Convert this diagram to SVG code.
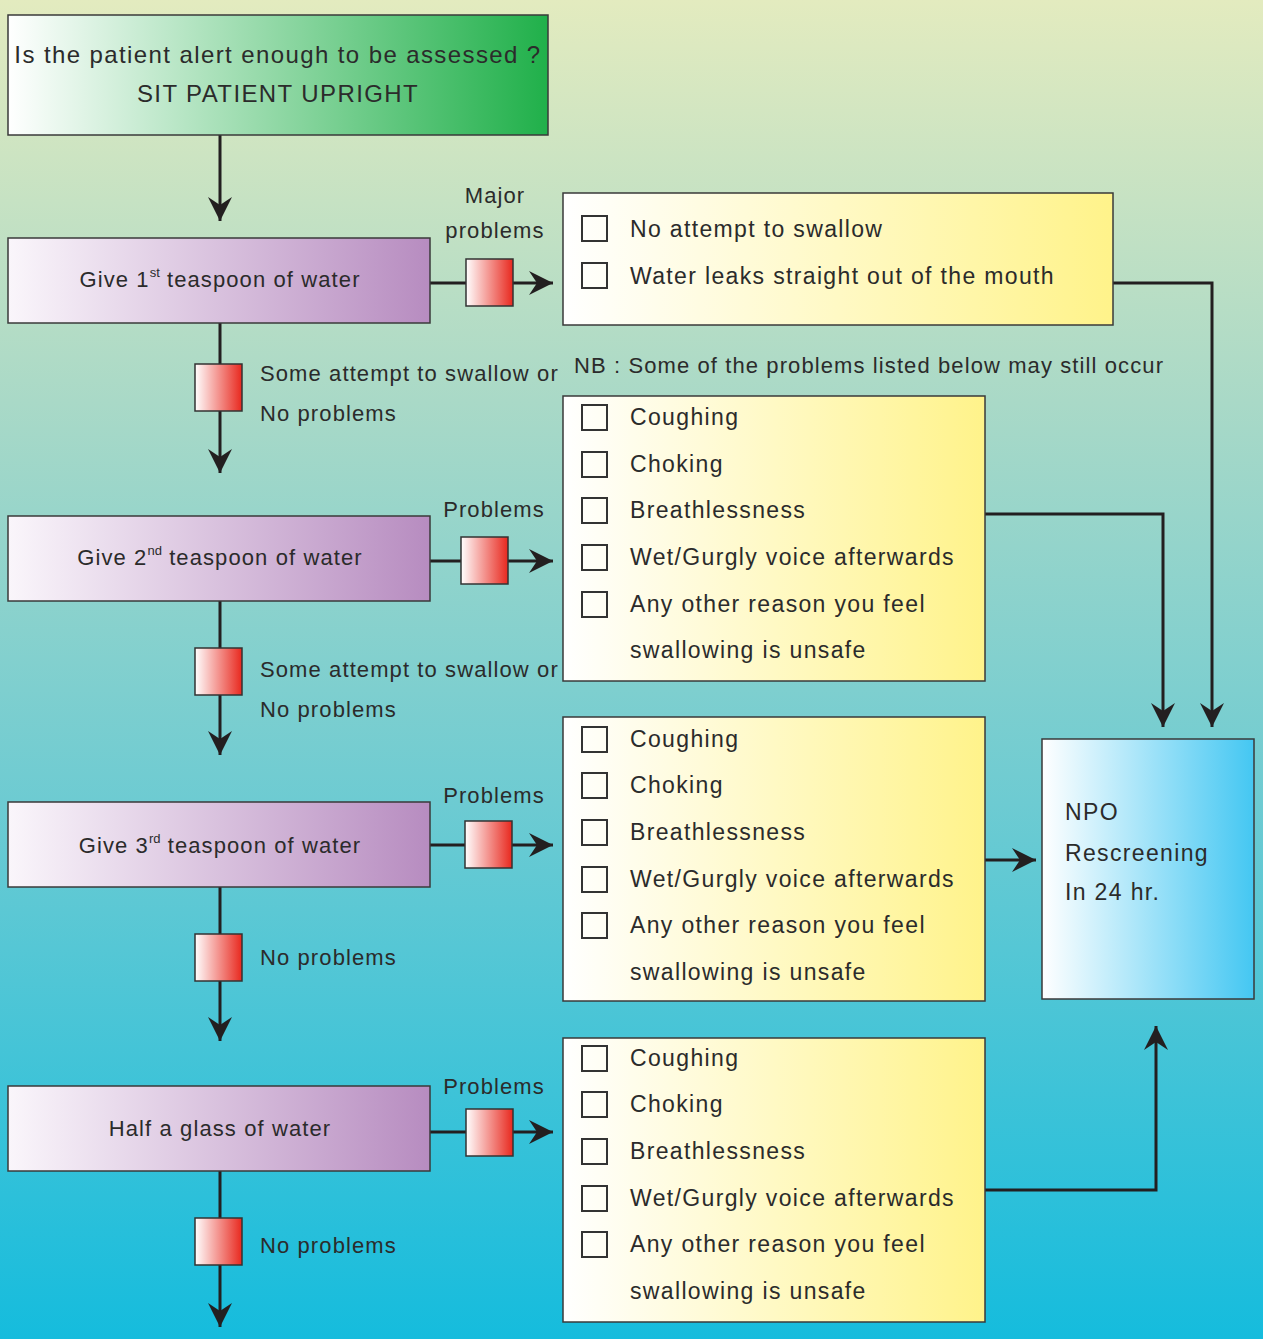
<svg xmlns="http://www.w3.org/2000/svg" width="1263" height="1339" viewBox="0 0 1263 1339">
<defs>
<linearGradient id="bg" x1="0" y1="0" x2="0" y2="1">
<stop offset="0" stop-color="#e3ebbf"/>
<stop offset="0.3" stop-color="#a9d9c7"/>
<stop offset="0.6" stop-color="#6dcbd2"/>
<stop offset="1" stop-color="#15bcdd"/>
</linearGradient>
<linearGradient id="green" x1="0" y1="0" x2="1" y2="0">
<stop offset="0" stop-color="#ffffff"/>
<stop offset="1" stop-color="#20b04a"/>
</linearGradient>
<linearGradient id="purple" x1="0" y1="0" x2="1" y2="0">
<stop offset="0" stop-color="#faf6fb"/>
<stop offset="1" stop-color="#b78cc0"/>
</linearGradient>
<linearGradient id="yellow" x1="0" y1="0" x2="1" y2="0">
<stop offset="0" stop-color="#ffffff"/>
<stop offset="1" stop-color="#fff38a"/>
</linearGradient>
<linearGradient id="blue" x1="0" y1="0" x2="1" y2="0">
<stop offset="0" stop-color="#ffffff"/>
<stop offset="1" stop-color="#44c7f2"/>
</linearGradient>
<linearGradient id="red" x1="0" y1="0" x2="1" y2="0">
<stop offset="0" stop-color="#ffffff"/>
<stop offset="1" stop-color="#e8281e"/>
</linearGradient>
<marker id="arr" markerUnits="userSpaceOnUse" markerWidth="28" markerHeight="28" viewBox="-26 -14 28 28" refX="0" refY="0" orient="auto">
<path d="M0,0 L-24,-12 L-16,0 L-24,12 Z" fill="#231f20"/>
</marker>
<style>
text{font-family:"Liberation Sans",Arial,sans-serif;fill:#2b2b2b;}
.t{font-size:22px;letter-spacing:1.1px;}
.c{font-size:23px;letter-spacing:1.35px;}
.h{font-size:24px;letter-spacing:1.4px;}
.box{stroke:#3a3a3a;stroke-width:1.5;}
.rs{fill:url(#red);stroke:#333;stroke-width:1.5;}
.cb{fill:none;stroke:#333;stroke-width:2;}
.ln{fill:none;stroke:#231f20;stroke-width:3;}
.la{fill:none;stroke:#231f20;stroke-width:3;marker-end:url(#arr);}
</style>
</defs>
<rect x="0" y="0" width="1263" height="1339" fill="url(#bg)"/>

<g id="connectors">
<path class="la" d="M220,135 V221"/>
<path class="la" d="M220,323 V473"/>
<path class="la" d="M220,601 V755"/>
<path class="la" d="M220,887 V1041"/>
<path class="la" d="M220,1171 V1327"/>
<path class="la" d="M430,283 H553"/>
<path class="la" d="M430,561 H553"/>
<path class="la" d="M430,845 H553"/>
<path class="la" d="M430,1132 H553"/>
<path class="la" d="M1113,283 H1212 V727"/>
<path class="la" d="M985,514 H1163 V727"/>
<path class="la" d="M985,860 H1036"/>
<path class="la" d="M985,1190 H1156 V1026"/>
</g>

<g id="start">
<rect class="box" x="8" y="15" width="540" height="120" fill="url(#green)"/>
<text class="h" x="278" y="63" text-anchor="middle">Is the patient alert enough to be assessed ?</text>
<text class="h" x="278" y="102" text-anchor="middle">SIT PATIENT UPRIGHT</text>
</g>

<g id="step1">
<rect class="box" x="8" y="238" width="422" height="85" fill="url(#purple)"/>
<text class="t" x="220" y="287" text-anchor="middle">Give 1<tspan font-size="13" dy="-10" letter-spacing="0">st</tspan><tspan dy="10"> teaspoon of water</tspan></text>
</g>
<g id="step2">
<rect class="box" x="8" y="516" width="422" height="85" fill="url(#purple)"/>
<text class="t" x="220" y="565" text-anchor="middle">Give 2<tspan font-size="13" dy="-10" letter-spacing="0">nd</tspan><tspan dy="10"> teaspoon of water</tspan></text>
</g>
<g id="step3">
<rect class="box" x="8" y="802" width="422" height="85" fill="url(#purple)"/>
<text class="t" x="220" y="853" text-anchor="middle">Give 3<tspan font-size="13" dy="-10" letter-spacing="0">rd</tspan><tspan dy="10"> teaspoon of water</tspan></text>
</g>
<g id="step4">
<rect class="box" x="8" y="1086" width="422" height="85" fill="url(#purple)"/>
<text class="t" x="220" y="1136" text-anchor="middle">Half a glass of water</text>
</g>

<g id="gates">
<rect class="rs" x="466" y="259" width="47" height="47"/>
<rect class="rs" x="461" y="537" width="47" height="47"/>
<rect class="rs" x="465" y="821" width="47" height="47"/>
<rect class="rs" x="466" y="1109" width="47" height="47"/>
<rect class="rs" x="195" y="364" width="47" height="47"/>
<rect class="rs" x="195" y="648" width="47" height="47"/>
<rect class="rs" x="195" y="934" width="47" height="47"/>
<rect class="rs" x="195" y="1218" width="47" height="47"/>
</g>

<g id="labels">
<text class="t" x="495" y="203" text-anchor="middle">Major</text>
<text class="t" x="495" y="238" text-anchor="middle">problems</text>
<text class="t" x="494" y="517" text-anchor="middle">Problems</text>
<text class="t" x="494" y="803" text-anchor="middle">Problems</text>
<text class="t" x="494" y="1094" text-anchor="middle">Problems</text>
<text class="t" x="260" y="381">Some attempt to swallow or</text>
<text class="t" x="260" y="421">No problems</text>
<text class="t" x="260" y="677">Some attempt to swallow or</text>
<text class="t" x="260" y="717">No problems</text>
<text class="t" x="260" y="965">No problems</text>
<text class="t" x="260" y="1253">No problems</text>
<text class="t" x="574" y="373">NB : Some of the problems listed below may still occur</text>
</g>

<g id="major">
<rect class="box" x="563" y="193" width="550" height="132" fill="url(#yellow)"/>
<rect class="cb" x="582" y="216" width="25" height="25"/>
<text class="c" x="630" y="237">No attempt to swallow</text>
<rect class="cb" x="582" y="263" width="25" height="25"/>
<text class="c" x="630" y="284">Water leaks straight out of the mouth</text>
</g>

<g id="check2">
<rect class="box" x="563" y="396" width="422" height="285" fill="url(#yellow)"/>
<rect class="cb" x="582" y="405" width="25" height="25"/>
<text class="c" x="630" y="425">Coughing</text>
<rect class="cb" x="582" y="452" width="25" height="25"/>
<text class="c" x="630" y="472">Choking</text>
<rect class="cb" x="582" y="498" width="25" height="25"/>
<text class="c" x="630" y="518">Breathlessness</text>
<rect class="cb" x="582" y="545" width="25" height="25"/>
<text class="c" x="630" y="565">Wet/Gurgly voice afterwards</text>
<rect class="cb" x="582" y="592" width="25" height="25"/>
<text class="c" x="630" y="612">Any other reason you feel</text>
<text class="c" x="630" y="658">swallowing is unsafe</text>
</g>

<g id="check3">
<rect class="box" x="563" y="717" width="422" height="284" fill="url(#yellow)"/>
<rect class="cb" x="582" y="727" width="25" height="25"/>
<text class="c" x="630" y="747">Coughing</text>
<rect class="cb" x="582" y="773" width="25" height="25"/>
<text class="c" x="630" y="793">Choking</text>
<rect class="cb" x="582" y="820" width="25" height="25"/>
<text class="c" x="630" y="840">Breathlessness</text>
<rect class="cb" x="582" y="867" width="25" height="25"/>
<text class="c" x="630" y="887">Wet/Gurgly voice afterwards</text>
<rect class="cb" x="582" y="913" width="25" height="25"/>
<text class="c" x="630" y="933">Any other reason you feel</text>
<text class="c" x="630" y="980">swallowing is unsafe</text>
</g>

<g id="check4">
<rect class="box" x="563" y="1038" width="422" height="284" fill="url(#yellow)"/>
<rect class="cb" x="582" y="1046" width="25" height="25"/>
<text class="c" x="630" y="1066">Coughing</text>
<rect class="cb" x="582" y="1092" width="25" height="25"/>
<text class="c" x="630" y="1112">Choking</text>
<rect class="cb" x="582" y="1139" width="25" height="25"/>
<text class="c" x="630" y="1159">Breathlessness</text>
<rect class="cb" x="582" y="1186" width="25" height="25"/>
<text class="c" x="630" y="1206">Wet/Gurgly voice afterwards</text>
<rect class="cb" x="582" y="1232" width="25" height="25"/>
<text class="c" x="630" y="1252">Any other reason you feel</text>
<text class="c" x="630" y="1299">swallowing is unsafe</text>
</g>

<g id="npo">
<rect class="box" x="1042" y="739" width="212" height="260" fill="url(#blue)"/>
<text class="c" x="1065" y="820">NPO</text>
<text class="c" x="1065" y="861">Rescreening</text>
<text class="c" x="1065" y="900">In 24 hr.</text>
</g>
</svg>
